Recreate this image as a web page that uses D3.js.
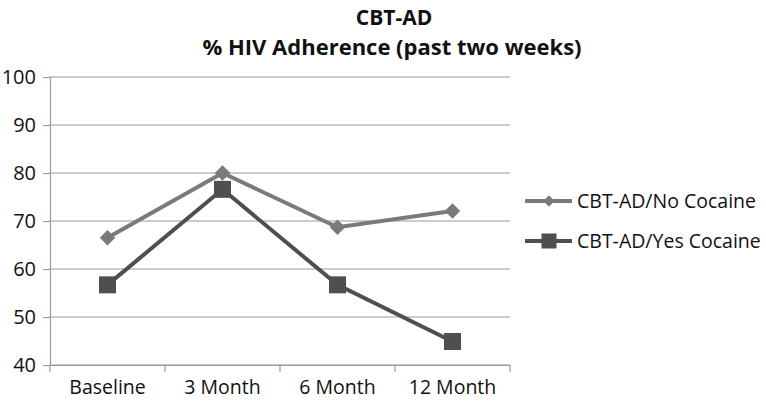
<!DOCTYPE html>
<html>
<head>
<meta charset="utf-8">
<script src="https://cdn.jsdelivr.net/npm/d3@7"></script>
<style>
  body { margin: 0; background: #fff; }
  text { font-family: "Open Sans", "Noto Sans", sans-serif; fill: #111; }
</style>
</head>
<body>
<script>
const categories = ["Baseline", "3 Month", "6 Month", "12 Month"];
const noCocaine = [66.5, 80, 68.7, 72.1];
const yesCocaine = [56.7, 76.6, 56.7, 44.9];
const yTicks = [40, 50, 60, 70, 80, 90, 100];
const seriesNames = ["CBT-AD/No Cocaine", "CBT-AD/Yes Cocaine"];

const margin = {top: 77, right: 256, bottom: 38, left: 50};
const width = 766 - margin.left - margin.right;
const height = 403 - margin.top - margin.bottom;

const svg =
    d3.select("body").append("svg")
        .attr("width", 766)
        .attr("height", 403);

svg.append("text")
    .attr("x", 394).attr("y", 25)
    .attr("text-anchor", "middle")
    .style("font-size", "21px").style("font-weight", "bold")
    .text("CBT-AD");
svg.append("text")
    .attr("x", 392).attr("y", 55)
    .attr("text-anchor", "middle")
    .style("font-size", "22px").style("font-weight", "bold")
    .text("% HIV Adherence (past two weeks)");

const g = svg.append("g")
    .attr("transform", `translate(${margin.left}, ${margin.top})`);

const x = d3.scaleBand().domain(categories).range([0, width]);
const y = d3.scaleLinear().domain([40, 100]).range([height, 0]);

// gridlines
g.append("g")
    .selectAll("line")
    .data(yTicks)
    .join("line")
        .attr("x1", 0).attr("x2", width)
        .attr("y1", d => y(d)).attr("y2", d => y(d))
        .attr("stroke", "#9a9a9a").attr("stroke-width", 1.2);

// y axis
const yAxis = g.append("g")
    .call(d3.axisLeft(y).tickValues(yTicks).tickSize(7).tickPadding(7));
yAxis.select(".domain").attr("stroke", "#9a9a9a").attr("stroke-width", 1.2);
yAxis.selectAll(".tick line").attr("stroke", "#9a9a9a").attr("stroke-width", 1.2);
yAxis.selectAll("text").style("font-size", "20px").attr("fill", "#111");

// x axis
const xAxis = g.append("g")
    .attr("transform", `translate(0, ${height})`)
    .call(d3.axisBottom(x).tickSize(0).tickPadding(15));
xAxis.select(".domain").attr("stroke", "#9a9a9a").attr("stroke-width", 1.2);
xAxis.selectAll("text").style("font-size", "19.5px").attr("fill", "#111");
// boundary ticks between categories
g.append("g")
    .selectAll("line")
    .data(d3.range(categories.length + 1))
    .join("line")
        .attr("x1", i => i * x.step()).attr("x2", i => i * x.step())
        .attr("y1", height).attr("y2", height + 7)
        .attr("stroke", "#9a9a9a").attr("stroke-width", 1.2);

const cx = c => x(c) + x.bandwidth() / 2;
const line = d3.line()
    .x((d, i) => cx(categories[i]))
    .y(d => y(d));

const colors = ["#7a7a7a", "#4f4f4f"];

g.append("path").datum(noCocaine)
    .attr("d", line).attr("fill", "none")
    .attr("stroke", colors[0]).attr("stroke-width", 4);
g.append("path").datum(yesCocaine)
    .attr("d", line).attr("fill", "none")
    .attr("stroke", colors[1]).attr("stroke-width", 4);

g.selectAll(".diamond")
    .data(noCocaine)
    .join("path")
        .attr("class", "diamond")
        .attr("transform", (d, i) => `translate(${cx(categories[i])}, ${y(d)}) rotate(45)`)
        .attr("d", "M-5.5,-5.5H5.5V5.5H-5.5Z")
        .attr("fill", colors[0]);

g.selectAll(".square")
    .data(yesCocaine)
    .join("rect")
        .attr("class", "square")
        .attr("x", (d, i) => cx(categories[i]) - 8.5)
        .attr("y", d => y(d) - 8.5)
        .attr("width", 17).attr("height", 17)
        .attr("fill", colors[1]);

// legend
const legend = svg.append("g").attr("transform", "translate(525, 201)");
seriesNames.forEach((name, i) => {
    const row = legend.append("g").attr("transform", `translate(0, ${i * 40})`);
    row.append("line")
        .attr("x1", 0).attr("x2", 47)
        .attr("stroke", colors[i]).attr("stroke-width", 4);
    if (i === 0) {
        row.append("path")
            .attr("transform", "translate(24, 0) rotate(45)")
            .attr("d", "M-4,-4H4V4H-4Z")
            .attr("fill", colors[i]);
    } else {
        row.append("rect")
            .attr("x", 16.5).attr("y", -7.5).attr("width", 15).attr("height", 15)
            .attr("fill", colors[i]);
    }
    row.append("text")
        .attr("x", 52).attr("y", 7)
        .style("font-size", "19.5px")
        .text(name);
});
</script>
</body>
</html>
